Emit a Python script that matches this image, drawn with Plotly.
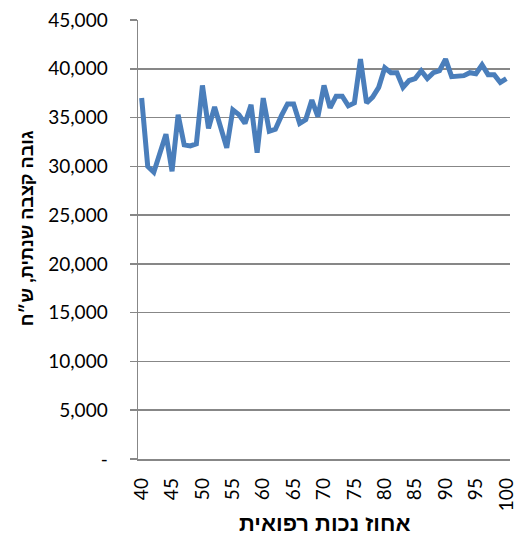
import plotly.graph_objects as go

disability_pct = list(range(40, 101))
annual_pension = [
    37000, 30000, 29400, 31400, 33300, 29500, 35300, 32200, 32100, 32300,
    38300, 33900, 36100, 34000, 31900, 35800, 35300, 34400, 36300, 31400,
    37000, 33600, 33800, 35200, 36400, 36400, 34400, 34800, 36800, 35100,
    38300, 36000, 37200, 37200, 36200, 36500, 41000, 36500, 37100, 38100,
    40100, 39600, 39600, 38100, 38800, 39000, 39800, 39000, 39600, 39800,
    41000, 39200, 39300, 39300, 39600, 39500, 40400, 39400, 39400, 38600,
    39000,
]
y_tickvals = [0, 5000, 10000, 15000, 20000, 25000, 30000, 35000, 40000, 45000]
y_ticktext = ["-", "5,000", "10,000", "15,000", "20,000", "25,000", "30,000",
              "35,000", "40,000", "45,000"]
x_tickvals = list(range(40, 101, 5))
x_title = "אחוז נכות רפואית"
y_title = "גובה קצבה שנתית, ש״ח"

grid = "#878787"
num_font = dict(family="Lato, Carlito, sans-serif", size=19, color="#000000")
xtitle_font = dict(family="Liberation Sans, DejaVu Sans, sans-serif", size=22, color="#000000")
ytitle_font = dict(family="Liberation Sans, DejaVu Sans, sans-serif", size=18, color="#000000")

fig = go.Figure()
fig.add_trace(go.Scatter(
    x=disability_pct, y=annual_pension, mode="lines",
    line=dict(color="#4a7ebb", width=5),
    hoverinfo="skip", showlegend=False,
))

fig.update_layout(
    width=524, height=540,
    margin=dict(l=138, r=8, t=19, b=81),
    paper_bgcolor="white", plot_bgcolor="white",
    annotations=[
        dict(text="<b>" + x_title + "</b>", xref="paper", yref="paper",
             x=0.5, y=-0.147, xanchor="center", yanchor="middle",
             showarrow=False, font=xtitle_font),
        dict(text="<b>" + y_title + "</b>", xref="paper", yref="paper",
             x=-0.299, y=0.525, xanchor="center", yanchor="middle",
             textangle=-90, showarrow=False, font=ytitle_font),
    ],
)
fig.update_xaxes(
    range=[39.4, 100.6], tickvals=x_tickvals, tickangle=-90,
    showgrid=False, zeroline=False, showline=True, linecolor=grid, linewidth=1.5,
    ticks="", tickfont=num_font, ticklabelstandoff=10,
)
fig.update_yaxes(
    range=[0, 45004], tickvals=y_tickvals, ticktext=y_ticktext,
    showgrid=True, gridcolor=grid, gridwidth=1.5, zeroline=False,
    showline=True, linecolor=grid, linewidth=1.5,
    ticks="outside", ticklen=7, tickcolor=grid, tickwidth=1.5,
    tickfont=num_font, ticklabelstandoff=18,
)

fig.write_html(
    "out.html",
    config={"displayModeBar": False, "staticPlot": True},
    post_script="document.body.style.margin='0';document.body.style.overflow='hidden';",
)
